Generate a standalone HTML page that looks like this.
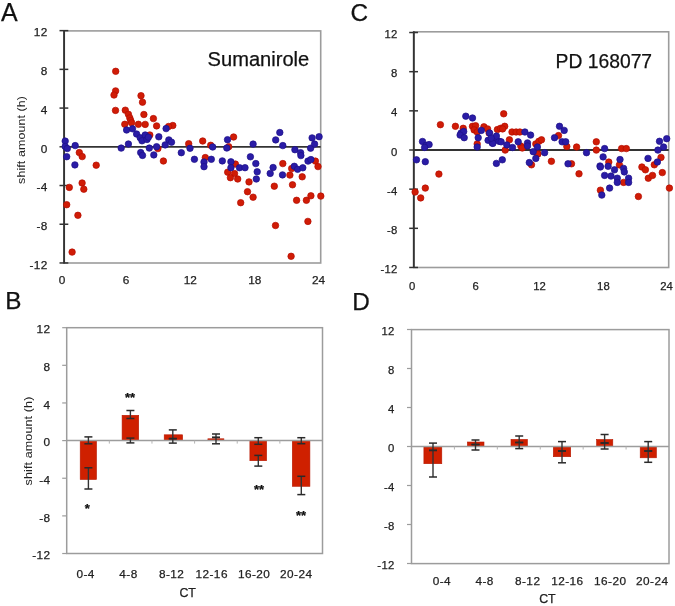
<!DOCTYPE html>
<html><head><meta charset="utf-8"><style>
html,body{margin:0;padding:0;background:#fff;}
body{width:675px;height:606px;overflow:hidden;}
svg{display:block;font-family:"Liberation Sans", sans-serif;filter:blur(0.35px);}
</style></head><body>
<svg width="675" height="606" viewBox="0 0 675 606">
<rect width="675" height="606" fill="#fff"/>
<text x="1.0" y="20.9" font-size="25" text-anchor="start" fill="#111" stroke="#111" stroke-width="0.25" >A</text>
<rect x="64.10" y="30.90" width="256.60" height="232.10" fill="none" stroke="#9c9c9c" stroke-width="1.6"/>
<line x1="64.10" y1="146.80" x2="320.70" y2="146.80" stroke="#333" stroke-width="1.8"/>
<line x1="64.10" y1="30.40" x2="64.10" y2="263.50" stroke="#333" stroke-width="1.9"/>
<line x1="59.50" y1="262.96" x2="68.30" y2="262.96" stroke="#333" stroke-width="1.5"/>
<text x="47.5" y="268.7" font-size="11.8" text-anchor="end" fill="#222" stroke="#222" stroke-width="0.25" letter-spacing="0.3">-12</text>
<line x1="59.50" y1="224.24" x2="68.30" y2="224.24" stroke="#333" stroke-width="1.5"/>
<text x="47.5" y="230.0" font-size="11.8" text-anchor="end" fill="#222" stroke="#222" stroke-width="0.25" letter-spacing="0.3">-8</text>
<line x1="59.50" y1="185.52" x2="68.30" y2="185.52" stroke="#333" stroke-width="1.5"/>
<text x="47.5" y="191.3" font-size="11.8" text-anchor="end" fill="#222" stroke="#222" stroke-width="0.25" letter-spacing="0.3">-4</text>
<line x1="59.50" y1="146.80" x2="68.30" y2="146.80" stroke="#333" stroke-width="1.5"/>
<text x="47.5" y="152.5" font-size="11.8" text-anchor="end" fill="#222" stroke="#222" stroke-width="0.25" letter-spacing="0.3">0</text>
<line x1="59.50" y1="108.08" x2="68.30" y2="108.08" stroke="#333" stroke-width="1.5"/>
<text x="47.5" y="113.8" font-size="11.8" text-anchor="end" fill="#222" stroke="#222" stroke-width="0.25" letter-spacing="0.3">4</text>
<line x1="59.50" y1="69.36" x2="68.30" y2="69.36" stroke="#333" stroke-width="1.5"/>
<text x="47.5" y="75.1" font-size="11.8" text-anchor="end" fill="#222" stroke="#222" stroke-width="0.25" letter-spacing="0.3">8</text>
<line x1="59.50" y1="30.64" x2="68.30" y2="30.64" stroke="#333" stroke-width="1.5"/>
<text x="47.5" y="36.4" font-size="11.8" text-anchor="end" fill="#222" stroke="#222" stroke-width="0.25" letter-spacing="0.3">12</text>
<circle cx="115.7" cy="71.3" r="3.25" fill="#d01c06" stroke="#b40c00" stroke-width="0.7"/>
<circle cx="115.6" cy="90.9" r="3.25" fill="#d01c06" stroke="#b40c00" stroke-width="0.7"/>
<circle cx="114.0" cy="95.0" r="3.25" fill="#d01c06" stroke="#b40c00" stroke-width="0.7"/>
<circle cx="115.5" cy="110.4" r="3.25" fill="#d01c06" stroke="#b40c00" stroke-width="0.7"/>
<circle cx="125.3" cy="110.2" r="3.25" fill="#d01c06" stroke="#b40c00" stroke-width="0.7"/>
<circle cx="128.4" cy="114.3" r="3.25" fill="#d01c06" stroke="#b40c00" stroke-width="0.7"/>
<circle cx="129.8" cy="117.9" r="3.25" fill="#d01c06" stroke="#b40c00" stroke-width="0.7"/>
<circle cx="130.7" cy="120.6" r="3.25" fill="#d01c06" stroke="#b40c00" stroke-width="0.7"/>
<circle cx="124.8" cy="124.3" r="3.25" fill="#d01c06" stroke="#b40c00" stroke-width="0.7"/>
<circle cx="131.6" cy="122.8" r="3.25" fill="#d01c06" stroke="#b40c00" stroke-width="0.7"/>
<circle cx="138.4" cy="124.3" r="3.25" fill="#d01c06" stroke="#b40c00" stroke-width="0.7"/>
<circle cx="145.2" cy="124.4" r="3.25" fill="#d01c06" stroke="#b40c00" stroke-width="0.7"/>
<circle cx="141.0" cy="95.7" r="3.25" fill="#d01c06" stroke="#b40c00" stroke-width="0.7"/>
<circle cx="142.5" cy="102.2" r="3.25" fill="#d01c06" stroke="#b40c00" stroke-width="0.7"/>
<circle cx="143.9" cy="114.5" r="3.25" fill="#d01c06" stroke="#b40c00" stroke-width="0.7"/>
<circle cx="153.4" cy="118.6" r="3.25" fill="#d01c06" stroke="#b40c00" stroke-width="0.7"/>
<circle cx="156.6" cy="125.9" r="3.25" fill="#d01c06" stroke="#b40c00" stroke-width="0.7"/>
<circle cx="172.8" cy="125.5" r="3.25" fill="#d01c06" stroke="#b40c00" stroke-width="0.7"/>
<circle cx="168.6" cy="126.5" r="3.25" fill="#d01c06" stroke="#b40c00" stroke-width="0.7"/>
<circle cx="149.8" cy="135.0" r="3.25" fill="#d01c06" stroke="#b40c00" stroke-width="0.7"/>
<circle cx="157.9" cy="148.6" r="3.25" fill="#d01c06" stroke="#b40c00" stroke-width="0.7"/>
<circle cx="163.4" cy="161.0" r="3.25" fill="#d01c06" stroke="#b40c00" stroke-width="0.7"/>
<circle cx="79.3" cy="152.6" r="3.25" fill="#d01c06" stroke="#b40c00" stroke-width="0.7"/>
<circle cx="82.2" cy="156.6" r="3.25" fill="#d01c06" stroke="#b40c00" stroke-width="0.7"/>
<circle cx="96.2" cy="165.2" r="3.25" fill="#d01c06" stroke="#b40c00" stroke-width="0.7"/>
<circle cx="69.3" cy="187.4" r="3.25" fill="#d01c06" stroke="#b40c00" stroke-width="0.7"/>
<circle cx="82.1" cy="183.0" r="3.25" fill="#d01c06" stroke="#b40c00" stroke-width="0.7"/>
<circle cx="83.8" cy="189.2" r="3.25" fill="#d01c06" stroke="#b40c00" stroke-width="0.7"/>
<circle cx="66.7" cy="204.7" r="3.25" fill="#d01c06" stroke="#b40c00" stroke-width="0.7"/>
<circle cx="77.9" cy="215.3" r="3.25" fill="#d01c06" stroke="#b40c00" stroke-width="0.7"/>
<circle cx="72.1" cy="252.1" r="3.25" fill="#d01c06" stroke="#b40c00" stroke-width="0.7"/>
<circle cx="188.7" cy="143.7" r="3.25" fill="#d01c06" stroke="#b40c00" stroke-width="0.7"/>
<circle cx="202.7" cy="141.0" r="3.25" fill="#d01c06" stroke="#b40c00" stroke-width="0.7"/>
<circle cx="210.7" cy="145.3" r="3.25" fill="#d01c06" stroke="#b40c00" stroke-width="0.7"/>
<circle cx="205.3" cy="157.6" r="3.25" fill="#d01c06" stroke="#b40c00" stroke-width="0.7"/>
<circle cx="227.7" cy="172.2" r="3.25" fill="#d01c06" stroke="#b40c00" stroke-width="0.7"/>
<circle cx="234.5" cy="173.6" r="3.25" fill="#d01c06" stroke="#b40c00" stroke-width="0.7"/>
<circle cx="230.4" cy="177.7" r="3.25" fill="#d01c06" stroke="#b40c00" stroke-width="0.7"/>
<circle cx="237.7" cy="179.0" r="3.25" fill="#d01c06" stroke="#b40c00" stroke-width="0.7"/>
<circle cx="235.4" cy="164.1" r="3.25" fill="#d01c06" stroke="#b40c00" stroke-width="0.7"/>
<circle cx="233.6" cy="137.0" r="3.25" fill="#d01c06" stroke="#b40c00" stroke-width="0.7"/>
<circle cx="228.7" cy="146.7" r="3.25" fill="#d01c06" stroke="#b40c00" stroke-width="0.7"/>
<circle cx="249.0" cy="181.9" r="3.25" fill="#d01c06" stroke="#b40c00" stroke-width="0.7"/>
<circle cx="247.5" cy="191.7" r="3.25" fill="#d01c06" stroke="#b40c00" stroke-width="0.7"/>
<circle cx="253.1" cy="197.2" r="3.25" fill="#d01c06" stroke="#b40c00" stroke-width="0.7"/>
<circle cx="240.7" cy="202.7" r="3.25" fill="#d01c06" stroke="#b40c00" stroke-width="0.7"/>
<circle cx="282.8" cy="163.6" r="3.25" fill="#d01c06" stroke="#b40c00" stroke-width="0.7"/>
<circle cx="291.7" cy="168.5" r="3.25" fill="#d01c06" stroke="#b40c00" stroke-width="0.7"/>
<circle cx="289.9" cy="175.1" r="3.25" fill="#d01c06" stroke="#b40c00" stroke-width="0.7"/>
<circle cx="302.2" cy="176.8" r="3.25" fill="#d01c06" stroke="#b40c00" stroke-width="0.7"/>
<circle cx="292.5" cy="184.8" r="3.25" fill="#d01c06" stroke="#b40c00" stroke-width="0.7"/>
<circle cx="274.3" cy="186.2" r="3.25" fill="#d01c06" stroke="#b40c00" stroke-width="0.7"/>
<circle cx="315.4" cy="161.1" r="3.25" fill="#d01c06" stroke="#b40c00" stroke-width="0.7"/>
<circle cx="318.0" cy="166.6" r="3.25" fill="#d01c06" stroke="#b40c00" stroke-width="0.7"/>
<circle cx="296.6" cy="200.3" r="3.25" fill="#d01c06" stroke="#b40c00" stroke-width="0.7"/>
<circle cx="306.4" cy="200.3" r="3.25" fill="#d01c06" stroke="#b40c00" stroke-width="0.7"/>
<circle cx="310.9" cy="195.8" r="3.25" fill="#d01c06" stroke="#b40c00" stroke-width="0.7"/>
<circle cx="320.8" cy="196.1" r="3.25" fill="#d01c06" stroke="#b40c00" stroke-width="0.7"/>
<circle cx="307.9" cy="221.4" r="3.25" fill="#d01c06" stroke="#b40c00" stroke-width="0.7"/>
<circle cx="275.5" cy="225.5" r="3.25" fill="#d01c06" stroke="#b40c00" stroke-width="0.7"/>
<circle cx="291.1" cy="256.3" r="3.25" fill="#d01c06" stroke="#b40c00" stroke-width="0.7"/>
<circle cx="65.2" cy="141.1" r="3.25" fill="#2a1ca6" stroke="#1c1088" stroke-width="0.7"/>
<circle cx="65.2" cy="146.5" r="3.25" fill="#2a1ca6" stroke="#1c1088" stroke-width="0.7"/>
<circle cx="67.3" cy="148.5" r="3.25" fill="#2a1ca6" stroke="#1c1088" stroke-width="0.7"/>
<circle cx="66.7" cy="156.7" r="3.25" fill="#2a1ca6" stroke="#1c1088" stroke-width="0.7"/>
<circle cx="75.2" cy="145.6" r="3.25" fill="#2a1ca6" stroke="#1c1088" stroke-width="0.7"/>
<circle cx="74.9" cy="164.9" r="3.25" fill="#2a1ca6" stroke="#1c1088" stroke-width="0.7"/>
<circle cx="126.6" cy="130.0" r="3.25" fill="#2a1ca6" stroke="#1c1088" stroke-width="0.7"/>
<circle cx="132.5" cy="128.8" r="3.25" fill="#2a1ca6" stroke="#1c1088" stroke-width="0.7"/>
<circle cx="136.6" cy="134.0" r="3.25" fill="#2a1ca6" stroke="#1c1088" stroke-width="0.7"/>
<circle cx="140.2" cy="137.7" r="3.25" fill="#2a1ca6" stroke="#1c1088" stroke-width="0.7"/>
<circle cx="142.0" cy="140.8" r="3.25" fill="#2a1ca6" stroke="#1c1088" stroke-width="0.7"/>
<circle cx="145.2" cy="135.0" r="3.25" fill="#2a1ca6" stroke="#1c1088" stroke-width="0.7"/>
<circle cx="147.0" cy="139.5" r="3.25" fill="#2a1ca6" stroke="#1c1088" stroke-width="0.7"/>
<circle cx="148.4" cy="137.2" r="3.25" fill="#2a1ca6" stroke="#1c1088" stroke-width="0.7"/>
<circle cx="158.8" cy="136.8" r="3.25" fill="#2a1ca6" stroke="#1c1088" stroke-width="0.7"/>
<circle cx="166.1" cy="128.6" r="3.25" fill="#2a1ca6" stroke="#1c1088" stroke-width="0.7"/>
<circle cx="168.8" cy="139.9" r="3.25" fill="#2a1ca6" stroke="#1c1088" stroke-width="0.7"/>
<circle cx="171.5" cy="142.2" r="3.25" fill="#2a1ca6" stroke="#1c1088" stroke-width="0.7"/>
<circle cx="165.2" cy="144.9" r="3.25" fill="#2a1ca6" stroke="#1c1088" stroke-width="0.7"/>
<circle cx="128.4" cy="144.0" r="3.25" fill="#2a1ca6" stroke="#1c1088" stroke-width="0.7"/>
<circle cx="121.2" cy="148.1" r="3.25" fill="#2a1ca6" stroke="#1c1088" stroke-width="0.7"/>
<circle cx="149.3" cy="148.1" r="3.25" fill="#2a1ca6" stroke="#1c1088" stroke-width="0.7"/>
<circle cx="156.6" cy="146.7" r="3.25" fill="#2a1ca6" stroke="#1c1088" stroke-width="0.7"/>
<circle cx="140.7" cy="152.6" r="3.25" fill="#2a1ca6" stroke="#1c1088" stroke-width="0.7"/>
<circle cx="142.5" cy="155.4" r="3.25" fill="#2a1ca6" stroke="#1c1088" stroke-width="0.7"/>
<circle cx="153.8" cy="154.9" r="3.25" fill="#2a1ca6" stroke="#1c1088" stroke-width="0.7"/>
<circle cx="181.3" cy="152.7" r="3.25" fill="#2a1ca6" stroke="#1c1088" stroke-width="0.7"/>
<circle cx="190.0" cy="148.3" r="3.25" fill="#2a1ca6" stroke="#1c1088" stroke-width="0.7"/>
<circle cx="194.4" cy="159.3" r="3.25" fill="#2a1ca6" stroke="#1c1088" stroke-width="0.7"/>
<circle cx="204.0" cy="162.0" r="3.25" fill="#2a1ca6" stroke="#1c1088" stroke-width="0.7"/>
<circle cx="204.0" cy="166.7" r="3.25" fill="#2a1ca6" stroke="#1c1088" stroke-width="0.7"/>
<circle cx="211.3" cy="159.3" r="3.25" fill="#2a1ca6" stroke="#1c1088" stroke-width="0.7"/>
<circle cx="212.7" cy="147.0" r="3.25" fill="#2a1ca6" stroke="#1c1088" stroke-width="0.7"/>
<circle cx="222.3" cy="160.9" r="3.25" fill="#2a1ca6" stroke="#1c1088" stroke-width="0.7"/>
<circle cx="227.5" cy="139.7" r="3.25" fill="#2a1ca6" stroke="#1c1088" stroke-width="0.7"/>
<circle cx="226.8" cy="148.0" r="3.25" fill="#2a1ca6" stroke="#1c1088" stroke-width="0.7"/>
<circle cx="230.9" cy="161.8" r="3.25" fill="#2a1ca6" stroke="#1c1088" stroke-width="0.7"/>
<circle cx="230.9" cy="167.7" r="3.25" fill="#2a1ca6" stroke="#1c1088" stroke-width="0.7"/>
<circle cx="239.5" cy="167.7" r="3.25" fill="#2a1ca6" stroke="#1c1088" stroke-width="0.7"/>
<circle cx="245.0" cy="167.7" r="3.25" fill="#2a1ca6" stroke="#1c1088" stroke-width="0.7"/>
<circle cx="250.4" cy="156.8" r="3.25" fill="#2a1ca6" stroke="#1c1088" stroke-width="0.7"/>
<circle cx="253.1" cy="144.1" r="3.25" fill="#2a1ca6" stroke="#1c1088" stroke-width="0.7"/>
<circle cx="255.8" cy="163.6" r="3.25" fill="#2a1ca6" stroke="#1c1088" stroke-width="0.7"/>
<circle cx="257.2" cy="171.8" r="3.25" fill="#2a1ca6" stroke="#1c1088" stroke-width="0.7"/>
<circle cx="256.3" cy="179.0" r="3.25" fill="#2a1ca6" stroke="#1c1088" stroke-width="0.7"/>
<circle cx="279.8" cy="132.5" r="3.25" fill="#2a1ca6" stroke="#1c1088" stroke-width="0.7"/>
<circle cx="275.7" cy="139.9" r="3.25" fill="#2a1ca6" stroke="#1c1088" stroke-width="0.7"/>
<circle cx="282.8" cy="145.6" r="3.25" fill="#2a1ca6" stroke="#1c1088" stroke-width="0.7"/>
<circle cx="273.1" cy="167.5" r="3.25" fill="#2a1ca6" stroke="#1c1088" stroke-width="0.7"/>
<circle cx="270.2" cy="173.4" r="3.25" fill="#2a1ca6" stroke="#1c1088" stroke-width="0.7"/>
<circle cx="282.5" cy="174.9" r="3.25" fill="#2a1ca6" stroke="#1c1088" stroke-width="0.7"/>
<circle cx="294.9" cy="149.7" r="3.25" fill="#2a1ca6" stroke="#1c1088" stroke-width="0.7"/>
<circle cx="300.6" cy="152.7" r="3.25" fill="#2a1ca6" stroke="#1c1088" stroke-width="0.7"/>
<circle cx="300.9" cy="155.6" r="3.25" fill="#2a1ca6" stroke="#1c1088" stroke-width="0.7"/>
<circle cx="294.3" cy="166.3" r="3.25" fill="#2a1ca6" stroke="#1c1088" stroke-width="0.7"/>
<circle cx="297.6" cy="169.3" r="3.25" fill="#2a1ca6" stroke="#1c1088" stroke-width="0.7"/>
<circle cx="302.8" cy="167.8" r="3.25" fill="#2a1ca6" stroke="#1c1088" stroke-width="0.7"/>
<circle cx="308.0" cy="161.1" r="3.25" fill="#2a1ca6" stroke="#1c1088" stroke-width="0.7"/>
<circle cx="310.9" cy="159.6" r="3.25" fill="#2a1ca6" stroke="#1c1088" stroke-width="0.7"/>
<circle cx="310.6" cy="148.2" r="3.25" fill="#2a1ca6" stroke="#1c1088" stroke-width="0.7"/>
<circle cx="314.6" cy="144.1" r="3.25" fill="#2a1ca6" stroke="#1c1088" stroke-width="0.7"/>
<circle cx="312.1" cy="137.9" r="3.25" fill="#2a1ca6" stroke="#1c1088" stroke-width="0.7"/>
<circle cx="319.1" cy="136.7" r="3.25" fill="#2a1ca6" stroke="#1c1088" stroke-width="0.7"/>
<text x="62.0" y="284.4" font-size="11.8" text-anchor="middle" fill="#222" stroke="#222" stroke-width="0.25" >0</text>
<text x="126.0" y="284.4" font-size="11.8" text-anchor="middle" fill="#222" stroke="#222" stroke-width="0.25" >6</text>
<text x="190.2" y="284.4" font-size="11.8" text-anchor="middle" fill="#222" stroke="#222" stroke-width="0.25" >12</text>
<text x="254.8" y="284.4" font-size="11.8" text-anchor="middle" fill="#222" stroke="#222" stroke-width="0.25" >18</text>
<text x="318.5" y="284.4" font-size="11.8" text-anchor="middle" fill="#222" stroke="#222" stroke-width="0.25" >24</text>
<text x="207.6" y="66.0" font-size="20.1" text-anchor="start" fill="#111" stroke="#111" stroke-width="0.25" >Sumanirole</text>
<text transform="translate(24.9,139.9) rotate(-90) scale(1.14,1)" font-size="10.9" text-anchor="middle" fill="#222" letter-spacing="0.1">shift amount (h)</text>
<text x="350.4" y="20.6" font-size="24.3" text-anchor="start" fill="#111" stroke="#111" stroke-width="0.25" >C</text>
<rect x="413.80" y="31.80" width="254.90" height="235.70" fill="none" stroke="#9c9c9c" stroke-width="1.6"/>
<line x1="413.80" y1="150.00" x2="668.70" y2="150.00" stroke="#333" stroke-width="1.8"/>
<line x1="413.80" y1="31.30" x2="413.80" y2="268.00" stroke="#333" stroke-width="1.9"/>
<line x1="409.20" y1="267.48" x2="418.00" y2="267.48" stroke="#333" stroke-width="1.5"/>
<text x="397.7" y="273.0" font-size="11.3" text-anchor="end" fill="#222" stroke="#222" stroke-width="0.25" letter-spacing="0.3">-12</text>
<line x1="409.20" y1="228.32" x2="418.00" y2="228.32" stroke="#333" stroke-width="1.5"/>
<text x="397.7" y="233.9" font-size="11.3" text-anchor="end" fill="#222" stroke="#222" stroke-width="0.25" letter-spacing="0.3">-8</text>
<line x1="409.20" y1="189.16" x2="418.00" y2="189.16" stroke="#333" stroke-width="1.5"/>
<text x="397.7" y="194.7" font-size="11.3" text-anchor="end" fill="#222" stroke="#222" stroke-width="0.25" letter-spacing="0.3">-4</text>
<line x1="409.20" y1="150.00" x2="418.00" y2="150.00" stroke="#333" stroke-width="1.5"/>
<text x="397.7" y="155.6" font-size="11.3" text-anchor="end" fill="#222" stroke="#222" stroke-width="0.25" letter-spacing="0.3">0</text>
<line x1="409.20" y1="110.84" x2="418.00" y2="110.84" stroke="#333" stroke-width="1.5"/>
<text x="397.7" y="116.4" font-size="11.3" text-anchor="end" fill="#222" stroke="#222" stroke-width="0.25" letter-spacing="0.3">4</text>
<line x1="409.20" y1="71.68" x2="418.00" y2="71.68" stroke="#333" stroke-width="1.5"/>
<text x="397.7" y="77.2" font-size="11.3" text-anchor="end" fill="#222" stroke="#222" stroke-width="0.25" letter-spacing="0.3">8</text>
<line x1="409.20" y1="32.52" x2="418.00" y2="32.52" stroke="#333" stroke-width="1.5"/>
<text x="397.7" y="38.1" font-size="11.3" text-anchor="end" fill="#222" stroke="#222" stroke-width="0.25" letter-spacing="0.3">12</text>
<circle cx="440.4" cy="124.7" r="3.25" fill="#d01c06" stroke="#b40c00" stroke-width="0.7"/>
<circle cx="455.4" cy="126.3" r="3.25" fill="#d01c06" stroke="#b40c00" stroke-width="0.7"/>
<circle cx="463.2" cy="128.3" r="3.25" fill="#d01c06" stroke="#b40c00" stroke-width="0.7"/>
<circle cx="472.5" cy="126.3" r="3.25" fill="#d01c06" stroke="#b40c00" stroke-width="0.7"/>
<circle cx="475.6" cy="125.7" r="3.25" fill="#d01c06" stroke="#b40c00" stroke-width="0.7"/>
<circle cx="474.1" cy="129.9" r="3.25" fill="#d01c06" stroke="#b40c00" stroke-width="0.7"/>
<circle cx="477.2" cy="132.0" r="3.25" fill="#d01c06" stroke="#b40c00" stroke-width="0.7"/>
<circle cx="483.9" cy="126.8" r="3.25" fill="#d01c06" stroke="#b40c00" stroke-width="0.7"/>
<circle cx="487.6" cy="128.9" r="3.25" fill="#d01c06" stroke="#b40c00" stroke-width="0.7"/>
<circle cx="489.1" cy="133.0" r="3.25" fill="#d01c06" stroke="#b40c00" stroke-width="0.7"/>
<circle cx="497.4" cy="129.6" r="3.25" fill="#d01c06" stroke="#b40c00" stroke-width="0.7"/>
<circle cx="477.2" cy="143.9" r="3.25" fill="#d01c06" stroke="#b40c00" stroke-width="0.7"/>
<circle cx="503.7" cy="113.8" r="3.25" fill="#d01c06" stroke="#b40c00" stroke-width="0.7"/>
<circle cx="500.6" cy="128.3" r="3.25" fill="#d01c06" stroke="#b40c00" stroke-width="0.7"/>
<circle cx="504.7" cy="126.3" r="3.25" fill="#d01c06" stroke="#b40c00" stroke-width="0.7"/>
<circle cx="502.6" cy="128.9" r="3.25" fill="#d01c06" stroke="#b40c00" stroke-width="0.7"/>
<circle cx="512.0" cy="132.0" r="3.25" fill="#d01c06" stroke="#b40c00" stroke-width="0.7"/>
<circle cx="516.1" cy="132.0" r="3.25" fill="#d01c06" stroke="#b40c00" stroke-width="0.7"/>
<circle cx="519.8" cy="132.0" r="3.25" fill="#d01c06" stroke="#b40c00" stroke-width="0.7"/>
<circle cx="509.4" cy="139.8" r="3.25" fill="#d01c06" stroke="#b40c00" stroke-width="0.7"/>
<circle cx="505.2" cy="150.1" r="3.25" fill="#d01c06" stroke="#b40c00" stroke-width="0.7"/>
<circle cx="520.8" cy="146.0" r="3.25" fill="#d01c06" stroke="#b40c00" stroke-width="0.7"/>
<circle cx="522.3" cy="148.0" r="3.25" fill="#d01c06" stroke="#b40c00" stroke-width="0.7"/>
<circle cx="535.8" cy="143.9" r="3.25" fill="#d01c06" stroke="#b40c00" stroke-width="0.7"/>
<circle cx="538.9" cy="141.3" r="3.25" fill="#d01c06" stroke="#b40c00" stroke-width="0.7"/>
<circle cx="541.5" cy="139.8" r="3.25" fill="#d01c06" stroke="#b40c00" stroke-width="0.7"/>
<circle cx="537.9" cy="153.8" r="3.25" fill="#d01c06" stroke="#b40c00" stroke-width="0.7"/>
<circle cx="551.4" cy="161.3" r="3.25" fill="#d01c06" stroke="#b40c00" stroke-width="0.7"/>
<circle cx="558.5" cy="135.6" r="3.25" fill="#d01c06" stroke="#b40c00" stroke-width="0.7"/>
<circle cx="566.8" cy="146.5" r="3.25" fill="#d01c06" stroke="#b40c00" stroke-width="0.7"/>
<circle cx="576.6" cy="147.0" r="3.25" fill="#d01c06" stroke="#b40c00" stroke-width="0.7"/>
<circle cx="596.3" cy="141.8" r="3.25" fill="#d01c06" stroke="#b40c00" stroke-width="0.7"/>
<circle cx="596.3" cy="150.1" r="3.25" fill="#d01c06" stroke="#b40c00" stroke-width="0.7"/>
<circle cx="571.5" cy="163.8" r="3.25" fill="#d01c06" stroke="#b40c00" stroke-width="0.7"/>
<circle cx="608.8" cy="162.1" r="3.25" fill="#d01c06" stroke="#b40c00" stroke-width="0.7"/>
<circle cx="621.6" cy="148.6" r="3.25" fill="#d01c06" stroke="#b40c00" stroke-width="0.7"/>
<circle cx="626.3" cy="148.6" r="3.25" fill="#d01c06" stroke="#b40c00" stroke-width="0.7"/>
<circle cx="661.0" cy="157.4" r="3.25" fill="#d01c06" stroke="#b40c00" stroke-width="0.7"/>
<circle cx="654.3" cy="164.8" r="3.25" fill="#d01c06" stroke="#b40c00" stroke-width="0.7"/>
<circle cx="619.4" cy="164.9" r="3.25" fill="#d01c06" stroke="#b40c00" stroke-width="0.7"/>
<circle cx="623.6" cy="182.4" r="3.25" fill="#d01c06" stroke="#b40c00" stroke-width="0.7"/>
<circle cx="600.4" cy="190.2" r="3.25" fill="#d01c06" stroke="#b40c00" stroke-width="0.7"/>
<circle cx="638.4" cy="196.5" r="3.25" fill="#d01c06" stroke="#b40c00" stroke-width="0.7"/>
<circle cx="641.9" cy="167.0" r="3.25" fill="#d01c06" stroke="#b40c00" stroke-width="0.7"/>
<circle cx="645.4" cy="169.8" r="3.25" fill="#d01c06" stroke="#b40c00" stroke-width="0.7"/>
<circle cx="648.3" cy="178.2" r="3.25" fill="#d01c06" stroke="#b40c00" stroke-width="0.7"/>
<circle cx="652.5" cy="175.4" r="3.25" fill="#d01c06" stroke="#b40c00" stroke-width="0.7"/>
<circle cx="662.3" cy="172.6" r="3.25" fill="#d01c06" stroke="#b40c00" stroke-width="0.7"/>
<circle cx="669.4" cy="188.1" r="3.25" fill="#d01c06" stroke="#b40c00" stroke-width="0.7"/>
<circle cx="579.0" cy="173.8" r="3.25" fill="#d01c06" stroke="#b40c00" stroke-width="0.7"/>
<circle cx="531.5" cy="164.8" r="3.25" fill="#d01c06" stroke="#b40c00" stroke-width="0.7"/>
<circle cx="537.7" cy="154.1" r="3.25" fill="#d01c06" stroke="#b40c00" stroke-width="0.7"/>
<circle cx="438.9" cy="174.1" r="3.25" fill="#d01c06" stroke="#b40c00" stroke-width="0.7"/>
<circle cx="425.3" cy="188.1" r="3.25" fill="#d01c06" stroke="#b40c00" stroke-width="0.7"/>
<circle cx="415.1" cy="192.0" r="3.25" fill="#d01c06" stroke="#b40c00" stroke-width="0.7"/>
<circle cx="420.7" cy="197.9" r="3.25" fill="#d01c06" stroke="#b40c00" stroke-width="0.7"/>
<circle cx="422.5" cy="141.5" r="3.25" fill="#2a1ca6" stroke="#1c1088" stroke-width="0.7"/>
<circle cx="426.0" cy="145.3" r="3.25" fill="#2a1ca6" stroke="#1c1088" stroke-width="0.7"/>
<circle cx="429.1" cy="144.6" r="3.25" fill="#2a1ca6" stroke="#1c1088" stroke-width="0.7"/>
<circle cx="424.6" cy="147.4" r="3.25" fill="#2a1ca6" stroke="#1c1088" stroke-width="0.7"/>
<circle cx="416.5" cy="159.8" r="3.25" fill="#2a1ca6" stroke="#1c1088" stroke-width="0.7"/>
<circle cx="425.3" cy="161.7" r="3.25" fill="#2a1ca6" stroke="#1c1088" stroke-width="0.7"/>
<circle cx="465.8" cy="116.2" r="3.25" fill="#2a1ca6" stroke="#1c1088" stroke-width="0.7"/>
<circle cx="472.5" cy="118.0" r="3.25" fill="#2a1ca6" stroke="#1c1088" stroke-width="0.7"/>
<circle cx="461.1" cy="133.0" r="3.25" fill="#2a1ca6" stroke="#1c1088" stroke-width="0.7"/>
<circle cx="463.7" cy="131.5" r="3.25" fill="#2a1ca6" stroke="#1c1088" stroke-width="0.7"/>
<circle cx="460.1" cy="135.1" r="3.25" fill="#2a1ca6" stroke="#1c1088" stroke-width="0.7"/>
<circle cx="464.2" cy="137.7" r="3.25" fill="#2a1ca6" stroke="#1c1088" stroke-width="0.7"/>
<circle cx="481.3" cy="130.4" r="3.25" fill="#2a1ca6" stroke="#1c1088" stroke-width="0.7"/>
<circle cx="478.2" cy="137.7" r="3.25" fill="#2a1ca6" stroke="#1c1088" stroke-width="0.7"/>
<circle cx="477.2" cy="147.0" r="3.25" fill="#2a1ca6" stroke="#1c1088" stroke-width="0.7"/>
<circle cx="489.6" cy="133.0" r="3.25" fill="#2a1ca6" stroke="#1c1088" stroke-width="0.7"/>
<circle cx="488.1" cy="140.3" r="3.25" fill="#2a1ca6" stroke="#1c1088" stroke-width="0.7"/>
<circle cx="492.2" cy="142.9" r="3.25" fill="#2a1ca6" stroke="#1c1088" stroke-width="0.7"/>
<circle cx="495.4" cy="138.2" r="3.25" fill="#2a1ca6" stroke="#1c1088" stroke-width="0.7"/>
<circle cx="499.0" cy="141.3" r="3.25" fill="#2a1ca6" stroke="#1c1088" stroke-width="0.7"/>
<circle cx="496.4" cy="163.4" r="3.25" fill="#2a1ca6" stroke="#1c1088" stroke-width="0.7"/>
<circle cx="496.4" cy="136.1" r="3.25" fill="#2a1ca6" stroke="#1c1088" stroke-width="0.7"/>
<circle cx="492.8" cy="143.4" r="3.25" fill="#2a1ca6" stroke="#1c1088" stroke-width="0.7"/>
<circle cx="491.2" cy="138.2" r="3.25" fill="#2a1ca6" stroke="#1c1088" stroke-width="0.7"/>
<circle cx="501.1" cy="141.8" r="3.25" fill="#2a1ca6" stroke="#1c1088" stroke-width="0.7"/>
<circle cx="506.8" cy="144.9" r="3.25" fill="#2a1ca6" stroke="#1c1088" stroke-width="0.7"/>
<circle cx="512.5" cy="147.5" r="3.25" fill="#2a1ca6" stroke="#1c1088" stroke-width="0.7"/>
<circle cx="518.2" cy="141.8" r="3.25" fill="#2a1ca6" stroke="#1c1088" stroke-width="0.7"/>
<circle cx="524.9" cy="132.0" r="3.25" fill="#2a1ca6" stroke="#1c1088" stroke-width="0.7"/>
<circle cx="530.6" cy="135.1" r="3.25" fill="#2a1ca6" stroke="#1c1088" stroke-width="0.7"/>
<circle cx="527.5" cy="142.9" r="3.25" fill="#2a1ca6" stroke="#1c1088" stroke-width="0.7"/>
<circle cx="527.5" cy="146.0" r="3.25" fill="#2a1ca6" stroke="#1c1088" stroke-width="0.7"/>
<circle cx="533.2" cy="151.7" r="3.25" fill="#2a1ca6" stroke="#1c1088" stroke-width="0.7"/>
<circle cx="537.4" cy="147.0" r="3.25" fill="#2a1ca6" stroke="#1c1088" stroke-width="0.7"/>
<circle cx="544.6" cy="152.7" r="3.25" fill="#2a1ca6" stroke="#1c1088" stroke-width="0.7"/>
<circle cx="535.8" cy="158.4" r="3.25" fill="#2a1ca6" stroke="#1c1088" stroke-width="0.7"/>
<circle cx="502.3" cy="159.8" r="3.25" fill="#2a1ca6" stroke="#1c1088" stroke-width="0.7"/>
<circle cx="529.3" cy="162.6" r="3.25" fill="#2a1ca6" stroke="#1c1088" stroke-width="0.7"/>
<circle cx="554.5" cy="137.7" r="3.25" fill="#2a1ca6" stroke="#1c1088" stroke-width="0.7"/>
<circle cx="559.5" cy="126.3" r="3.25" fill="#2a1ca6" stroke="#1c1088" stroke-width="0.7"/>
<circle cx="564.2" cy="130.4" r="3.25" fill="#2a1ca6" stroke="#1c1088" stroke-width="0.7"/>
<circle cx="562.1" cy="141.8" r="3.25" fill="#2a1ca6" stroke="#1c1088" stroke-width="0.7"/>
<circle cx="565.7" cy="141.8" r="3.25" fill="#2a1ca6" stroke="#1c1088" stroke-width="0.7"/>
<circle cx="586.5" cy="152.7" r="3.25" fill="#2a1ca6" stroke="#1c1088" stroke-width="0.7"/>
<circle cx="604.6" cy="148.6" r="3.25" fill="#2a1ca6" stroke="#1c1088" stroke-width="0.7"/>
<circle cx="603.1" cy="156.9" r="3.25" fill="#2a1ca6" stroke="#1c1088" stroke-width="0.7"/>
<circle cx="568.0" cy="163.8" r="3.25" fill="#2a1ca6" stroke="#1c1088" stroke-width="0.7"/>
<circle cx="600.0" cy="166.0" r="3.25" fill="#2a1ca6" stroke="#1c1088" stroke-width="0.7"/>
<circle cx="666.7" cy="138.7" r="3.25" fill="#2a1ca6" stroke="#1c1088" stroke-width="0.7"/>
<circle cx="659.5" cy="141.3" r="3.25" fill="#2a1ca6" stroke="#1c1088" stroke-width="0.7"/>
<circle cx="663.6" cy="147.0" r="3.25" fill="#2a1ca6" stroke="#1c1088" stroke-width="0.7"/>
<circle cx="657.9" cy="150.1" r="3.25" fill="#2a1ca6" stroke="#1c1088" stroke-width="0.7"/>
<circle cx="648.0" cy="158.4" r="3.25" fill="#2a1ca6" stroke="#1c1088" stroke-width="0.7"/>
<circle cx="620.0" cy="159.5" r="3.25" fill="#2a1ca6" stroke="#1c1088" stroke-width="0.7"/>
<circle cx="657.4" cy="162.0" r="3.25" fill="#2a1ca6" stroke="#1c1088" stroke-width="0.7"/>
<circle cx="600.4" cy="167.0" r="3.25" fill="#2a1ca6" stroke="#1c1088" stroke-width="0.7"/>
<circle cx="608.1" cy="166.3" r="3.25" fill="#2a1ca6" stroke="#1c1088" stroke-width="0.7"/>
<circle cx="614.5" cy="169.8" r="3.25" fill="#2a1ca6" stroke="#1c1088" stroke-width="0.7"/>
<circle cx="623.6" cy="168.4" r="3.25" fill="#2a1ca6" stroke="#1c1088" stroke-width="0.7"/>
<circle cx="624.3" cy="171.9" r="3.25" fill="#2a1ca6" stroke="#1c1088" stroke-width="0.7"/>
<circle cx="604.6" cy="175.4" r="3.25" fill="#2a1ca6" stroke="#1c1088" stroke-width="0.7"/>
<circle cx="611.0" cy="176.1" r="3.25" fill="#2a1ca6" stroke="#1c1088" stroke-width="0.7"/>
<circle cx="617.3" cy="178.2" r="3.25" fill="#2a1ca6" stroke="#1c1088" stroke-width="0.7"/>
<circle cx="617.3" cy="182.4" r="3.25" fill="#2a1ca6" stroke="#1c1088" stroke-width="0.7"/>
<circle cx="628.6" cy="178.2" r="3.25" fill="#2a1ca6" stroke="#1c1088" stroke-width="0.7"/>
<circle cx="628.6" cy="182.4" r="3.25" fill="#2a1ca6" stroke="#1c1088" stroke-width="0.7"/>
<circle cx="609.6" cy="188.1" r="3.25" fill="#2a1ca6" stroke="#1c1088" stroke-width="0.7"/>
<circle cx="601.8" cy="195.1" r="3.25" fill="#2a1ca6" stroke="#1c1088" stroke-width="0.7"/>
<text x="412.2" y="290.3" font-size="11.3" text-anchor="middle" fill="#222" stroke="#222" stroke-width="0.25" >0</text>
<text x="475.7" y="290.3" font-size="11.3" text-anchor="middle" fill="#222" stroke="#222" stroke-width="0.25" >6</text>
<text x="539.5" y="290.3" font-size="11.3" text-anchor="middle" fill="#222" stroke="#222" stroke-width="0.25" >12</text>
<text x="603.4" y="290.3" font-size="11.3" text-anchor="middle" fill="#222" stroke="#222" stroke-width="0.25" >18</text>
<text x="666.6" y="290.3" font-size="11.3" text-anchor="middle" fill="#222" stroke="#222" stroke-width="0.25" >24</text>
<text x="555.6" y="68.4" font-size="19.3" text-anchor="start" fill="#111" stroke="#111" stroke-width="0.25" >PD 168077</text>
<text x="5.2" y="309.4" font-size="24.3" text-anchor="start" fill="#111" stroke="#111" stroke-width="0.25" >B</text>
<rect x="80.2" y="440.6" width="16.3" height="38.9" fill="#cf2000" stroke="#b81800" stroke-width="0.6"/>
<rect x="122.1" y="415.3" width="16.6" height="25.3" fill="#cf2000" stroke="#b81800" stroke-width="0.6"/>
<rect x="164.2" y="434.8" width="18.4" height="5.8" fill="#cf2000" stroke="#b81800" stroke-width="0.6"/>
<rect x="207.9" y="438.8" width="16.0" height="1.8" fill="#cf2000" stroke="#b81800" stroke-width="0.6"/>
<rect x="249.9" y="440.6" width="16.7" height="20.1" fill="#cf2000" stroke="#b81800" stroke-width="0.6"/>
<rect x="292.3" y="440.6" width="17.6" height="45.7" fill="#cf2000" stroke="#b81800" stroke-width="0.6"/>
<line x1="66.70" y1="440.60" x2="322.50" y2="440.60" stroke="#9c9c9c" stroke-width="1.5"/>
<line x1="109.33" y1="440.60" x2="109.33" y2="443.60" stroke="#b4b4b4" stroke-width="1.0"/>
<line x1="151.97" y1="440.60" x2="151.97" y2="443.60" stroke="#b4b4b4" stroke-width="1.0"/>
<line x1="194.60" y1="440.60" x2="194.60" y2="443.60" stroke="#b4b4b4" stroke-width="1.0"/>
<line x1="237.23" y1="440.60" x2="237.23" y2="443.60" stroke="#b4b4b4" stroke-width="1.0"/>
<line x1="279.87" y1="440.60" x2="279.87" y2="443.60" stroke="#b4b4b4" stroke-width="1.0"/>
<line x1="88.40" y1="436.90" x2="88.40" y2="443.80" stroke="#333" stroke-width="1.4"/>
<line x1="84.40" y1="436.90" x2="92.40" y2="436.90" stroke="#2a2a2a" stroke-width="1.5"/>
<line x1="84.40" y1="443.80" x2="92.40" y2="443.80" stroke="#2a2a2a" stroke-width="1.5"/>
<line x1="88.40" y1="467.80" x2="88.40" y2="489.00" stroke="#333" stroke-width="1.4"/>
<line x1="84.40" y1="467.80" x2="92.40" y2="467.80" stroke="#2a2a2a" stroke-width="1.5"/>
<line x1="84.40" y1="489.00" x2="92.40" y2="489.00" stroke="#2a2a2a" stroke-width="1.5"/>
<line x1="130.40" y1="410.50" x2="130.40" y2="418.50" stroke="#333" stroke-width="1.4"/>
<line x1="126.40" y1="410.50" x2="134.40" y2="410.50" stroke="#2a2a2a" stroke-width="1.5"/>
<line x1="126.40" y1="418.50" x2="134.40" y2="418.50" stroke="#2a2a2a" stroke-width="1.5"/>
<line x1="130.40" y1="438.10" x2="130.40" y2="442.90" stroke="#333" stroke-width="1.4"/>
<line x1="126.40" y1="438.10" x2="134.40" y2="438.10" stroke="#2a2a2a" stroke-width="1.5"/>
<line x1="126.40" y1="442.90" x2="134.40" y2="442.90" stroke="#2a2a2a" stroke-width="1.5"/>
<line x1="172.80" y1="429.90" x2="172.80" y2="438.60" stroke="#333" stroke-width="1.4"/>
<line x1="168.80" y1="429.90" x2="176.80" y2="429.90" stroke="#2a2a2a" stroke-width="1.5"/>
<line x1="168.80" y1="438.60" x2="176.80" y2="438.60" stroke="#2a2a2a" stroke-width="1.5"/>
<line x1="172.80" y1="438.60" x2="172.80" y2="443.10" stroke="#333" stroke-width="1.4"/>
<line x1="168.80" y1="438.60" x2="176.80" y2="438.60" stroke="#2a2a2a" stroke-width="1.5"/>
<line x1="168.80" y1="443.10" x2="176.80" y2="443.10" stroke="#2a2a2a" stroke-width="1.5"/>
<line x1="216.00" y1="434.00" x2="216.00" y2="437.40" stroke="#333" stroke-width="1.4"/>
<line x1="212.00" y1="434.00" x2="220.00" y2="434.00" stroke="#2a2a2a" stroke-width="1.5"/>
<line x1="212.00" y1="437.40" x2="220.00" y2="437.40" stroke="#2a2a2a" stroke-width="1.5"/>
<line x1="216.00" y1="437.40" x2="216.00" y2="443.80" stroke="#333" stroke-width="1.4"/>
<line x1="212.00" y1="437.40" x2="220.00" y2="437.40" stroke="#2a2a2a" stroke-width="1.5"/>
<line x1="212.00" y1="443.80" x2="220.00" y2="443.80" stroke="#2a2a2a" stroke-width="1.5"/>
<line x1="258.30" y1="437.70" x2="258.30" y2="444.30" stroke="#333" stroke-width="1.4"/>
<line x1="254.30" y1="437.70" x2="262.30" y2="437.70" stroke="#2a2a2a" stroke-width="1.5"/>
<line x1="254.30" y1="444.30" x2="262.30" y2="444.30" stroke="#2a2a2a" stroke-width="1.5"/>
<line x1="258.30" y1="455.40" x2="258.30" y2="466.10" stroke="#333" stroke-width="1.4"/>
<line x1="254.30" y1="455.40" x2="262.30" y2="455.40" stroke="#2a2a2a" stroke-width="1.5"/>
<line x1="254.30" y1="466.10" x2="262.30" y2="466.10" stroke="#2a2a2a" stroke-width="1.5"/>
<line x1="301.30" y1="437.70" x2="301.30" y2="443.70" stroke="#333" stroke-width="1.4"/>
<line x1="297.30" y1="437.70" x2="305.30" y2="437.70" stroke="#2a2a2a" stroke-width="1.5"/>
<line x1="297.30" y1="443.70" x2="305.30" y2="443.70" stroke="#2a2a2a" stroke-width="1.5"/>
<line x1="301.30" y1="476.30" x2="301.30" y2="494.60" stroke="#333" stroke-width="1.4"/>
<line x1="297.30" y1="476.30" x2="305.30" y2="476.30" stroke="#2a2a2a" stroke-width="1.5"/>
<line x1="297.30" y1="494.60" x2="305.30" y2="494.60" stroke="#2a2a2a" stroke-width="1.5"/>
<rect x="66.70" y="327.70" width="255.80" height="225.80" fill="none" stroke="#9c9c9c" stroke-width="1.5"/>
<line x1="62.20" y1="553.52" x2="66.70" y2="553.52" stroke="#9c9c9c" stroke-width="1.2"/>
<text x="50.3" y="559.3" font-size="11.8" text-anchor="end" fill="#222" stroke="#222" stroke-width="0.25" letter-spacing="0.3">-12</text>
<line x1="62.20" y1="515.88" x2="66.70" y2="515.88" stroke="#9c9c9c" stroke-width="1.2"/>
<text x="50.3" y="521.6" font-size="11.8" text-anchor="end" fill="#222" stroke="#222" stroke-width="0.25" letter-spacing="0.3">-8</text>
<line x1="62.20" y1="478.24" x2="66.70" y2="478.24" stroke="#9c9c9c" stroke-width="1.2"/>
<text x="50.3" y="484.0" font-size="11.8" text-anchor="end" fill="#222" stroke="#222" stroke-width="0.25" letter-spacing="0.3">-4</text>
<line x1="62.20" y1="440.60" x2="66.70" y2="440.60" stroke="#9c9c9c" stroke-width="1.2"/>
<text x="50.3" y="446.3" font-size="11.8" text-anchor="end" fill="#222" stroke="#222" stroke-width="0.25" letter-spacing="0.3">0</text>
<line x1="62.20" y1="402.96" x2="66.70" y2="402.96" stroke="#9c9c9c" stroke-width="1.2"/>
<text x="50.3" y="408.7" font-size="11.8" text-anchor="end" fill="#222" stroke="#222" stroke-width="0.25" letter-spacing="0.3">4</text>
<line x1="62.20" y1="365.32" x2="66.70" y2="365.32" stroke="#9c9c9c" stroke-width="1.2"/>
<text x="50.3" y="371.1" font-size="11.8" text-anchor="end" fill="#222" stroke="#222" stroke-width="0.25" letter-spacing="0.3">8</text>
<line x1="62.20" y1="327.68" x2="66.70" y2="327.68" stroke="#9c9c9c" stroke-width="1.2"/>
<text x="50.3" y="333.4" font-size="11.8" text-anchor="end" fill="#222" stroke="#222" stroke-width="0.25" letter-spacing="0.3">12</text>
<text x="85.6" y="577.6" font-size="11.8" text-anchor="middle" fill="#222" stroke="#222" stroke-width="0.25" letter-spacing="0.45">0-4</text>
<text x="128.5" y="577.6" font-size="11.8" text-anchor="middle" fill="#222" stroke="#222" stroke-width="0.25" letter-spacing="0.45">4-8</text>
<text x="171.6" y="577.6" font-size="11.8" text-anchor="middle" fill="#222" stroke="#222" stroke-width="0.25" letter-spacing="0.45">8-12</text>
<text x="211.7" y="577.6" font-size="11.8" text-anchor="middle" fill="#222" stroke="#222" stroke-width="0.25" letter-spacing="0.45">12-16</text>
<text x="254.1" y="577.6" font-size="11.8" text-anchor="middle" fill="#222" stroke="#222" stroke-width="0.25" letter-spacing="0.45">16-20</text>
<text x="296.3" y="577.6" font-size="11.8" text-anchor="middle" fill="#222" stroke="#222" stroke-width="0.25" letter-spacing="0.45">20-24</text>
<text x="187.7" y="597.4" font-size="12.4" text-anchor="middle" fill="#222" stroke="#222" stroke-width="0.25" >CT</text>
<text x="87.3" y="512.5" font-size="13" text-anchor="middle" fill="#111" stroke="#111" stroke-width="0.25" font-weight="bold">*</text>
<text x="130.0" y="402.3" font-size="13" text-anchor="middle" fill="#111" stroke="#111" stroke-width="0.25" font-weight="bold">**</text>
<text x="259.0" y="493.8" font-size="13" text-anchor="middle" fill="#111" stroke="#111" stroke-width="0.25" font-weight="bold">**</text>
<text x="301.0" y="520.1" font-size="13" text-anchor="middle" fill="#111" stroke="#111" stroke-width="0.25" font-weight="bold">**</text>
<text transform="translate(31.5,441.0) rotate(-90) scale(1.14,1)" font-size="11.0" text-anchor="middle" fill="#222" letter-spacing="0.1">shift amount (h)</text>
<text x="352.3" y="310.1" font-size="24.3" text-anchor="start" fill="#111" stroke="#111" stroke-width="0.25" >D</text>
<rect x="423.9" y="446.5" width="17.9" height="17.2" fill="#cf2000" stroke="#b81800" stroke-width="0.6"/>
<rect x="467.4" y="442.0" width="16.6" height="4.5" fill="#cf2000" stroke="#b81800" stroke-width="0.6"/>
<rect x="511.0" y="439.4" width="16.4" height="7.1" fill="#cf2000" stroke="#b81800" stroke-width="0.6"/>
<rect x="553.3" y="446.5" width="17.4" height="10.2" fill="#cf2000" stroke="#b81800" stroke-width="0.6"/>
<rect x="596.6" y="439.5" width="16.2" height="7.0" fill="#cf2000" stroke="#b81800" stroke-width="0.6"/>
<rect x="640.2" y="446.5" width="16.2" height="11.3" fill="#cf2000" stroke="#b81800" stroke-width="0.6"/>
<line x1="411.50" y1="446.50" x2="669.00" y2="446.50" stroke="#9c9c9c" stroke-width="1.5"/>
<line x1="454.42" y1="446.50" x2="454.42" y2="449.50" stroke="#b4b4b4" stroke-width="1.0"/>
<line x1="497.33" y1="446.50" x2="497.33" y2="449.50" stroke="#b4b4b4" stroke-width="1.0"/>
<line x1="540.25" y1="446.50" x2="540.25" y2="449.50" stroke="#b4b4b4" stroke-width="1.0"/>
<line x1="583.17" y1="446.50" x2="583.17" y2="449.50" stroke="#b4b4b4" stroke-width="1.0"/>
<line x1="626.08" y1="446.50" x2="626.08" y2="449.50" stroke="#b4b4b4" stroke-width="1.0"/>
<line x1="433.00" y1="443.10" x2="433.00" y2="450.40" stroke="#333" stroke-width="1.4"/>
<line x1="429.00" y1="443.10" x2="437.00" y2="443.10" stroke="#2a2a2a" stroke-width="1.5"/>
<line x1="429.00" y1="450.40" x2="437.00" y2="450.40" stroke="#2a2a2a" stroke-width="1.5"/>
<line x1="433.00" y1="450.40" x2="433.00" y2="477.00" stroke="#333" stroke-width="1.4"/>
<line x1="429.00" y1="450.40" x2="437.00" y2="450.40" stroke="#2a2a2a" stroke-width="1.5"/>
<line x1="429.00" y1="477.00" x2="437.00" y2="477.00" stroke="#2a2a2a" stroke-width="1.5"/>
<line x1="475.50" y1="440.00" x2="475.50" y2="444.50" stroke="#333" stroke-width="1.4"/>
<line x1="471.50" y1="440.00" x2="479.50" y2="440.00" stroke="#2a2a2a" stroke-width="1.5"/>
<line x1="471.50" y1="444.50" x2="479.50" y2="444.50" stroke="#2a2a2a" stroke-width="1.5"/>
<line x1="475.50" y1="444.50" x2="475.50" y2="450.00" stroke="#333" stroke-width="1.4"/>
<line x1="471.50" y1="444.50" x2="479.50" y2="444.50" stroke="#2a2a2a" stroke-width="1.5"/>
<line x1="471.50" y1="450.00" x2="479.50" y2="450.00" stroke="#2a2a2a" stroke-width="1.5"/>
<line x1="519.20" y1="436.00" x2="519.20" y2="442.50" stroke="#333" stroke-width="1.4"/>
<line x1="515.20" y1="436.00" x2="523.20" y2="436.00" stroke="#2a2a2a" stroke-width="1.5"/>
<line x1="515.20" y1="442.50" x2="523.20" y2="442.50" stroke="#2a2a2a" stroke-width="1.5"/>
<line x1="519.20" y1="442.50" x2="519.20" y2="448.60" stroke="#333" stroke-width="1.4"/>
<line x1="515.20" y1="442.50" x2="523.20" y2="442.50" stroke="#2a2a2a" stroke-width="1.5"/>
<line x1="515.20" y1="448.60" x2="523.20" y2="448.60" stroke="#2a2a2a" stroke-width="1.5"/>
<line x1="562.00" y1="441.60" x2="562.00" y2="451.00" stroke="#333" stroke-width="1.4"/>
<line x1="558.00" y1="441.60" x2="566.00" y2="441.60" stroke="#2a2a2a" stroke-width="1.5"/>
<line x1="558.00" y1="451.00" x2="566.00" y2="451.00" stroke="#2a2a2a" stroke-width="1.5"/>
<line x1="562.00" y1="451.00" x2="562.00" y2="462.80" stroke="#333" stroke-width="1.4"/>
<line x1="558.00" y1="451.00" x2="566.00" y2="451.00" stroke="#2a2a2a" stroke-width="1.5"/>
<line x1="558.00" y1="462.80" x2="566.00" y2="462.80" stroke="#2a2a2a" stroke-width="1.5"/>
<line x1="604.60" y1="434.50" x2="604.60" y2="443.00" stroke="#333" stroke-width="1.4"/>
<line x1="600.60" y1="434.50" x2="608.60" y2="434.50" stroke="#2a2a2a" stroke-width="1.5"/>
<line x1="600.60" y1="443.00" x2="608.60" y2="443.00" stroke="#2a2a2a" stroke-width="1.5"/>
<line x1="604.60" y1="443.00" x2="604.60" y2="449.00" stroke="#333" stroke-width="1.4"/>
<line x1="600.60" y1="443.00" x2="608.60" y2="443.00" stroke="#2a2a2a" stroke-width="1.5"/>
<line x1="600.60" y1="449.00" x2="608.60" y2="449.00" stroke="#2a2a2a" stroke-width="1.5"/>
<line x1="648.20" y1="441.60" x2="648.20" y2="451.00" stroke="#333" stroke-width="1.4"/>
<line x1="644.20" y1="441.60" x2="652.20" y2="441.60" stroke="#2a2a2a" stroke-width="1.5"/>
<line x1="644.20" y1="451.00" x2="652.20" y2="451.00" stroke="#2a2a2a" stroke-width="1.5"/>
<line x1="648.20" y1="451.00" x2="648.20" y2="462.30" stroke="#333" stroke-width="1.4"/>
<line x1="644.20" y1="451.00" x2="652.20" y2="451.00" stroke="#2a2a2a" stroke-width="1.5"/>
<line x1="644.20" y1="462.30" x2="652.20" y2="462.30" stroke="#2a2a2a" stroke-width="1.5"/>
<rect x="411.50" y="329.60" width="257.50" height="234.00" fill="none" stroke="#9c9c9c" stroke-width="1.5"/>
<line x1="407.00" y1="563.50" x2="411.50" y2="563.50" stroke="#9c9c9c" stroke-width="1.2"/>
<text x="394.6" y="569.1" font-size="11.3" text-anchor="end" fill="#222" stroke="#222" stroke-width="0.25" letter-spacing="0.3">-12</text>
<line x1="407.00" y1="524.50" x2="411.50" y2="524.50" stroke="#9c9c9c" stroke-width="1.2"/>
<text x="394.6" y="530.1" font-size="11.3" text-anchor="end" fill="#222" stroke="#222" stroke-width="0.25" letter-spacing="0.3">-8</text>
<line x1="407.00" y1="485.50" x2="411.50" y2="485.50" stroke="#9c9c9c" stroke-width="1.2"/>
<text x="394.6" y="491.1" font-size="11.3" text-anchor="end" fill="#222" stroke="#222" stroke-width="0.25" letter-spacing="0.3">-4</text>
<line x1="407.00" y1="446.50" x2="411.50" y2="446.50" stroke="#9c9c9c" stroke-width="1.2"/>
<text x="394.6" y="452.1" font-size="11.3" text-anchor="end" fill="#222" stroke="#222" stroke-width="0.25" letter-spacing="0.3">0</text>
<line x1="407.00" y1="407.50" x2="411.50" y2="407.50" stroke="#9c9c9c" stroke-width="1.2"/>
<text x="394.6" y="413.1" font-size="11.3" text-anchor="end" fill="#222" stroke="#222" stroke-width="0.25" letter-spacing="0.3">4</text>
<line x1="407.00" y1="368.50" x2="411.50" y2="368.50" stroke="#9c9c9c" stroke-width="1.2"/>
<text x="394.6" y="374.1" font-size="11.3" text-anchor="end" fill="#222" stroke="#222" stroke-width="0.25" letter-spacing="0.3">8</text>
<line x1="407.00" y1="329.50" x2="411.50" y2="329.50" stroke="#9c9c9c" stroke-width="1.2"/>
<text x="394.6" y="335.1" font-size="11.3" text-anchor="end" fill="#222" stroke="#222" stroke-width="0.25" letter-spacing="0.3">12</text>
<text x="441.9" y="584.9" font-size="11.8" text-anchor="middle" fill="#222" stroke="#222" stroke-width="0.25" letter-spacing="0.45">0-4</text>
<text x="484.7" y="584.9" font-size="11.8" text-anchor="middle" fill="#222" stroke="#222" stroke-width="0.25" letter-spacing="0.45">4-8</text>
<text x="527.7" y="584.9" font-size="11.8" text-anchor="middle" fill="#222" stroke="#222" stroke-width="0.25" letter-spacing="0.45">8-12</text>
<text x="567.4" y="584.9" font-size="11.8" text-anchor="middle" fill="#222" stroke="#222" stroke-width="0.25" letter-spacing="0.45">12-16</text>
<text x="610.3" y="584.9" font-size="11.8" text-anchor="middle" fill="#222" stroke="#222" stroke-width="0.25" letter-spacing="0.45">16-20</text>
<text x="652.3" y="584.9" font-size="11.8" text-anchor="middle" fill="#222" stroke="#222" stroke-width="0.25" letter-spacing="0.45">20-24</text>
<text x="547.4" y="603.3" font-size="12.4" text-anchor="middle" fill="#222" stroke="#222" stroke-width="0.25" >CT</text>
</svg>
</body></html>
